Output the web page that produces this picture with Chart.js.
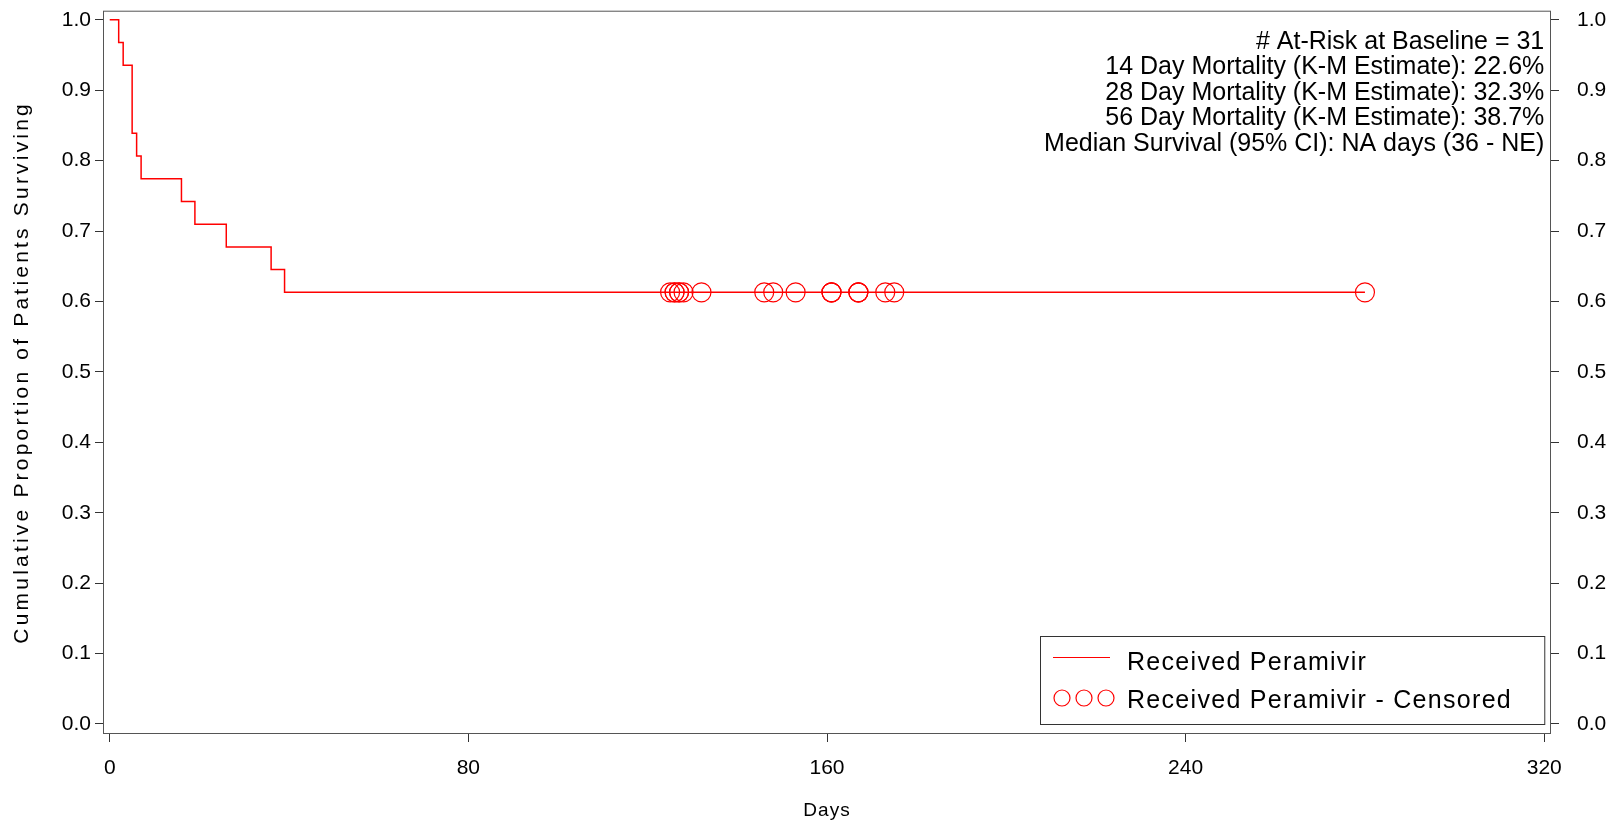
<!DOCTYPE html>
<html>
<head>
<meta charset="utf-8">
<script src="https://cdn.jsdelivr.net/npm/chart.js@4.4.1/dist/chart.umd.min.js"></script>
<style>
  body { margin: 0; background: #fff; }
  #wrap { width: 1617px; height: 822px; }
</style>
</head>
<body>
<div id="wrap"><canvas id="km" width="1617" height="822"></canvas></div>
<script>
// Kaplan-Meier steps (day, proportion surviving)
const eventDays = [0, 2, 3, 5, 6, 7, 16, 19, 26, 36, 39, 280];
const survival  = [1.0, 0.9677, 0.9355, 0.8387, 0.8065, 0.7742, 0.7419, 0.7097, 0.6774, 0.6452, 0.6129, 0.6129];

// censored subjects
const censoredDays = [125, 126, 126, 127, 127, 128, 132, 146, 148, 153, 161, 161, 161, 167, 167, 167, 173, 175, 280];
const censoredSurv = [0.6129, 0.6129, 0.6129, 0.6129, 0.6129, 0.6129, 0.6129, 0.6129, 0.6129, 0.6129,
                      0.6129, 0.6129, 0.6129, 0.6129, 0.6129, 0.6129, 0.6129, 0.6129, 0.6129];

const xTicks = [0, 80, 160, 240, 320];
const yTicks = [0, 0.1, 0.2, 0.3, 0.4, 0.5, 0.6, 0.7, 0.8, 0.9, 1.0];

const infoLines = [
  "# At-Risk at Baseline = 31",
  "14 Day Mortality (K-M Estimate): 22.6%",
  "28 Day Mortality (K-M Estimate): 32.3%",
  "56 Day Mortality (K-M Estimate): 38.7%",
  "Median Survival (95% CI): NA days (36 - NE)"
];
const seriesName = "Received Peramivir";
const censoredName = "Received Peramivir - Censored";

const RED = "#ff0000";
const tickFont = { family: "'Liberation Sans', Arial, sans-serif", size: 21 };

const kmPoints = eventDays.map((d, i) => ({ x: d, y: survival[i] }));
const censPoints = censoredDays.map((d, i) => ({ x: d, y: censoredSurv[i] }));

function setTicks(list) {
  return function (scale) { scale.ticks = list.map(v => ({ value: v })); };
}
// fixed axis sizes, no extra label padding
function fixSize(w, h) {
  return function (s) {
    if (w !== null) s.width = w;
    if (h !== null) s.height = h;
    s.paddingTop = 0; s.paddingBottom = 0;
    s.paddingLeft = 0; s.paddingRight = 0;
  };
}

const framePlugin = {
  id: "frame",
  beforeDatasetsDraw(chart) {
    const a = chart.chartArea, ctx = chart.ctx;
    ctx.save();
    ctx.strokeStyle = "#555";
    ctx.lineWidth = 1;
    ctx.strokeRect(a.left + 0.5, a.top + 0.5, a.right - a.left - 1, a.bottom - a.top - 1);
    ctx.restore();
  },
  afterDraw(chart) {
    const a = chart.chartArea, ctx = chart.ctx;
    ctx.save();
    ctx.fillStyle = "#000";

    // axis titles
    ctx.font = "21px 'Liberation Sans', Arial, sans-serif";
    ctx.letterSpacing = "3.2px";
    ctx.textAlign = "center";
    ctx.textBaseline = "alphabetic";
    ctx.save();
    ctx.translate(28, (a.top + a.bottom) / 2);
    ctx.rotate(-Math.PI / 2);
    ctx.fillText("Cumulative Proportion of Patients Surviving", 0, 0);
    ctx.restore();
    ctx.font = "19px 'Liberation Sans', Arial, sans-serif";
    ctx.letterSpacing = "1px";
    ctx.textBaseline = "middle";
    ctx.fillText("Days", (a.left + a.right) / 2, 811);
    ctx.letterSpacing = "0px";

    // info text, top right
    ctx.font = "25px 'Liberation Sans', Arial, sans-serif";
    ctx.textAlign = "right";
    ctx.textBaseline = "middle";
    const xs = chart.scales.x;
    const rightX = xs.getPixelForValue(320);
    infoLines.forEach((t, i) => ctx.fillText(t, rightX, 41.7 + i * 25.5));

    // legend box
    const bx = 1040, by = 636, bw = rightX - 1040, bh = 88;
    ctx.fillStyle = "#fff";
    ctx.fillRect(bx, by, bw, bh);
    ctx.strokeStyle = "#333";
    ctx.lineWidth = 1;
    ctx.strokeRect(bx + 0.5, by + 0.5, bw, bh);
    ctx.strokeStyle = RED;
    ctx.lineWidth = 1.2;
    ctx.beginPath();
    ctx.moveTo(1053, 657.5);
    ctx.lineTo(1110, 657.5);
    ctx.stroke();
    [1062, 1084, 1106].forEach(cx => {
      ctx.beginPath();
      ctx.arc(cx, 698, 8, 0, Math.PI * 2);
      ctx.stroke();
    });
    ctx.fillStyle = "#000";
    ctx.textAlign = "left";
    ctx.letterSpacing = "1.3px";
    ctx.fillText(seriesName, 1127, 663);
    ctx.fillText(censoredName, 1127, 701);
    ctx.restore();
  }
};

const ctx = document.getElementById("km").getContext("2d");
new Chart(ctx, {
  type: "scatter",
  data: {
    datasets: [
      {
        label: seriesName,
        data: kmPoints,
        showLine: true,
        stepped: true,
        borderColor: RED,
        borderWidth: 1.5,
        pointRadius: 0,
        fill: false
      },
      {
        label: censoredName,
        data: censPoints,
        showLine: false,
        pointStyle: "circle",
        pointRadius: 9.5,
        pointBorderWidth: 1.2,
        pointBorderColor: RED,
        pointBackgroundColor: "rgba(0,0,0,0)"
      }
    ]
  },
  options: {
    responsive: false,
    animation: false,
    devicePixelRatio: 1,
    layout: { padding: { top: 9, left: 0, right: 0, bottom: 0 } },
    plugins: {
      legend: { display: false },
      tooltip: { enabled: false }
    },
    scales: {
      x: {
        type: "linear",
        position: "bottom",
        min: -1.5,
        max: 321.5,
        afterBuildTicks: setTicks(xTicks),
        afterFit: fixSize(null, 88),
        border: { display: false },
        grid: { drawOnChartArea: false, tickLength: 8, color: "#333" },
        ticks: { font: tickFont, color: "#000", padding: 14, maxRotation: 0 }
      },
      y: {
        position: "left",
        min: -0.0142,
        max: 1.0128,
        afterBuildTicks: setTicks(yTicks),
        afterFit: fixSize(103, null),
        border: { display: false },
        grid: { drawOnChartArea: false, tickLength: 8, color: "#333" },
        ticks: { font: tickFont, color: "#000", padding: 4, callback: v => v.toFixed(1) }
      },
      y2: {
        position: "right",
        min: -0.0142,
        max: 1.0128,
        afterBuildTicks: setTicks(yTicks),
        afterFit: fixSize(66, null),
        border: { display: false },
        grid: { drawOnChartArea: false, tickLength: 8, color: "#333" },
        ticks: { font: tickFont, color: "#000", padding: 18, callback: v => v.toFixed(1) }
      }
    }
  },
  plugins: [framePlugin]
});
</script>
</body>
</html>
